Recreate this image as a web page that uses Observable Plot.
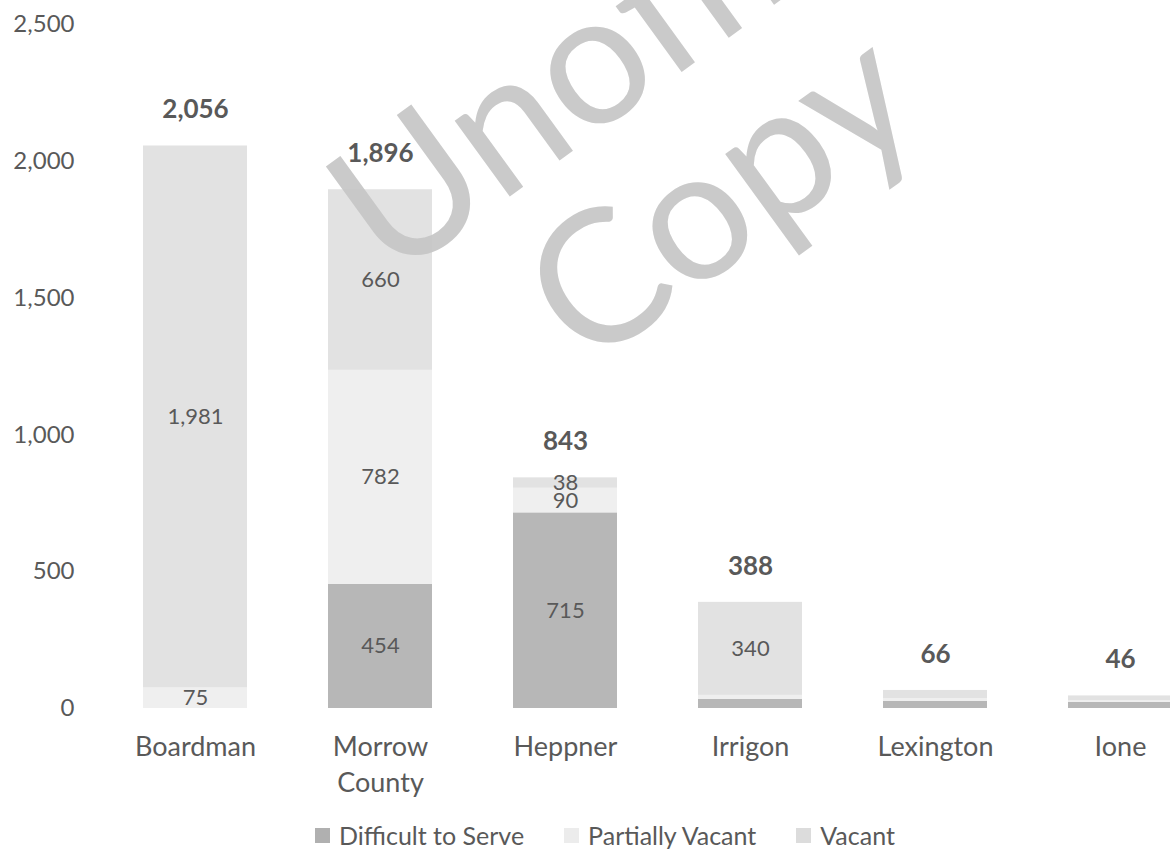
<!DOCTYPE html>
<html>
<head>
<meta charset="utf-8">
<script src="https://cdn.jsdelivr.net/npm/d3@7"></script>
<script src="https://cdn.jsdelivr.net/npm/@observablehq/plot@0.6"></script>
<style>
  body { margin: 0; background: #fff; font-family: Lato, "Open Sans", sans-serif; color: #595959; }
  #wrap { position: relative; width: 1170px; height: 856px; overflow: hidden; }
  #legend { position: absolute; left: 315px; top: 820px; display: flex; gap: 40px; font-size: 25px; color: #595959; align-items: center; }
  #legend .item { display: flex; align-items: center; gap: 9px; }
  #legend .sw { width: 15px; height: 15px; display: inline-block; }
  .wm { position: absolute; font-family: Lato, sans-serif; font-size: 185px; color: #c6c6c6; transform-origin: 0 0; white-space: nowrap; line-height: 1; opacity: 0.92; }
</style>
</head>
<body>
<div id="wrap">
  <div id="chart"></div>
  <div id="legend"></div>
</div>
<script>
const categories = ["Boardman", "Morrow County", "Heppner", "Irrigon", "Lexington", "Ione"];
const categoryLabels = ["Boardman", "Morrow\nCounty", "Heppner", "Irrigon", "Lexington", "Ione"];
const seriesNames = ["Difficult to Serve", "Partially Vacant", "Vacant"];
const difficultToServe = [0, 454, 715, 33, 26, 22];
const partiallyVacant = [75, 782, 90, 15, 10, 6];
const vacant = [1981, 660, 38, 340, 30, 18];
const totals = [2056, 1896, 843, 388, 66, 46];
const yTicks = [0, 500, 1000, 1500, 2000, 2500];
const seriesColors = ["#b7b7b7", "#efefef", "#e2e2e2"];

const seriesValues = [difficultToServe, partiallyVacant, vacant];
const rows = [];
seriesNames.forEach((s, si) => {
  categories.forEach((c, ci) => rows.push({category: c, series: s, value: seriesValues[si][ci]}));
});
const totalRows = categories.map((c, i) => ({category: c, total: totals[i]}));
const fmt = d3.format(",");
const labelOf = Object.fromEntries(categories.map((c, i) => [c, categoryLabels[i]]));

const chart = Plot.plot({
  width: 1170,
  height: 800,
  marginTop: 24,
  marginBottom: 92,
  marginLeft: 80,
  marginRight: 0,
  style: {fontFamily: "Lato, 'Open Sans', sans-serif", color: "#595959", background: "#fff"},
  x: {domain: categories, range: [102.5, 1212.5], paddingInner: 0.44, paddingOuter: 0.22, label: null},
  y: {domain: [0, 2500], label: null},
  color: {domain: seriesNames, range: seriesColors},
  marks: [
    Plot.barY(rows, {x: "category", y: "value", fill: "series"}),
    Plot.text(rows, Plot.stackY({x: "category", y: "value", z: "series",
      text: d => d.value >= 35 ? fmt(d.value) : "", fontSize: 22, fill: "#595959"})),
    Plot.text(totalRows, {x: "category", y: "total", text: d => fmt(d.total), dy: -36,
      fontSize: 26, fontWeight: "bold", fill: "#595959"}),
    Plot.axisY({ticks: yTicks, tickFormat: fmt, tickSize: 0, tickPadding: 6, fontSize: 24, fill: "#595959", label: null}),
    Plot.axisX({tickSize: 0, tickPadding: 23, fontSize: 27, fill: "#595959", lineHeight: 1.3,
      tickFormat: d => labelOf[d], label: null})
  ]
});
document.getElementById("chart").appendChild(chart);

const legend = document.getElementById("legend");
const legendColors = ["#b0b0b0", "#ececec", "#dcdcdc"];
seriesNames.forEach((s, i) => {
  const item = document.createElement("div");
  item.className = "item";
  const sw = document.createElement("span");
  sw.className = "sw";
  sw.style.background = legendColors[i];
  const t = document.createElement("span");
  t.textContent = s;
  item.appendChild(sw); item.appendChild(t);
  legend.appendChild(item);
});

// watermark
const wrap = document.getElementById("wrap");
[["Unofficial", 295, 150], ["Copy", 490, 238]].forEach(([txt, x, y]) => {
  const d = document.createElement("div");
  d.className = "wm";
  d.textContent = txt;
  d.style.left = x + "px";
  d.style.top = y + "px";
  d.style.transform = "rotate(-36deg)";
  wrap.appendChild(d);
});
</script>
</body>
</html>
